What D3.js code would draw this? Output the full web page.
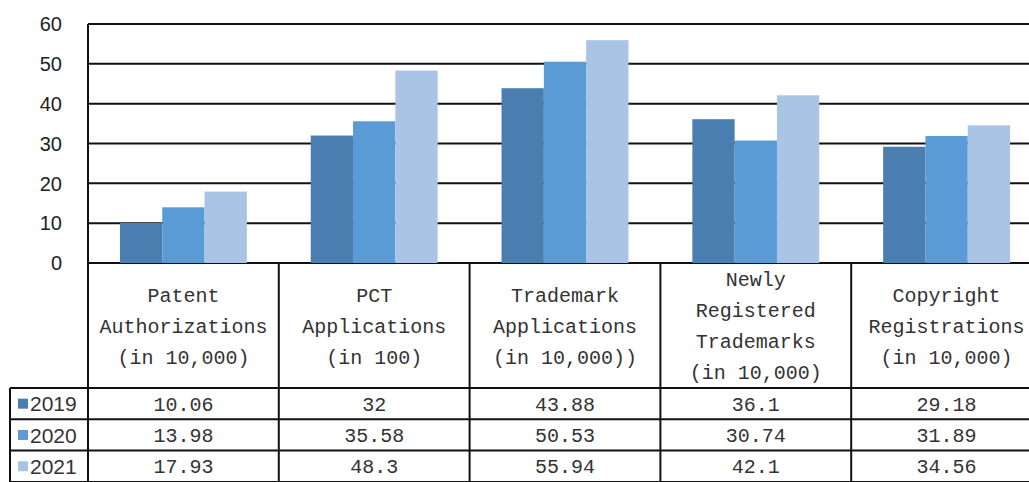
<!DOCTYPE html>
<html>
<head>
<meta charset="utf-8">
<script src="https://cdn.jsdelivr.net/npm/d3@7"></script>
<style>
  body { margin: 0; background: #fff; }
  svg { display: block; }
</style>
</head>
<body>
<div id="chart"></div>
<script>
// chart data
var categories = ["Patent Authorizations", "PCT Applications", "Trademark Applications", "Newly Registered Trademarks", "Copyright Registrations"];
var categoryLines = [
    ["Patent", "Authorizations", "(in 10,000)"],
    ["PCT", "Applications", "(in 100)"],
    ["Trademark", "Applications", "(in 10,000))"],
    ["Newly", "Registered", "Trademarks", "(in 10,000)"],
    ["Copyright", "Registrations", "(in 10,000)"]
];
var years = ["2019", "2020", "2021"];
var values2019 = [10.06, 32, 43.88, 36.1, 29.18];
var values2020 = [13.98, 35.58, 50.53, 30.74, 31.89];
var values2021 = [17.93, 48.3, 55.94, 42.1, 34.56];
var valueLabels2019 = ["10.06", "32", "43.88", "36.1", "29.18"];
var valueLabels2020 = ["13.98", "35.58", "50.53", "30.74", "31.89"];
var valueLabels2021 = ["17.93", "48.3", "55.94", "42.1", "34.56"];
var yTicks = [0, 10, 20, 30, 40, 50, 60];
var colors = ["#4a7db0", "#5b9bd5", "#a9c4e4"];

var series = [values2019, values2020, values2021];
var labels = [valueLabels2019, valueLabels2020, valueLabels2021];

var width = 1029, height = 482;
var plot = { left: 88, top: 24, bottom: 263 };
var catWidth = 190.8;
var headerBottom = 388;
var rowH = 31.3;
var legendLeft = 10;

var svg = d3.select("#chart").append("svg")
    .attr("width", width)
    .attr("height", height);

// scales
var x0 = d3.scaleBand()
    .domain(categories)
    .range([plot.left, plot.left + catWidth * categories.length])
    .paddingInner(0).paddingOuter(0);
var x1 = d3.scaleBand()
    .domain(years)
    .range([0, x0.bandwidth()])
    .paddingInner(0)
    .paddingOuter(0.755);
var y = d3.scaleLinear()
    .domain([0, 60])
    .range([plot.bottom, plot.top]);

// gridlines
svg.append("g").selectAll("line")
    .data(yTicks).enter()
    .append("line")
        .attr("x1", plot.left)
        .attr("x2", width)
        .attr("y1", function(d) { return y(d); })
        .attr("y2", function(d) { return y(d); })
        .attr("stroke", "#111")
        .attr("stroke-width", 2);

// y tick labels
svg.append("g").selectAll("text")
    .data(yTicks).enter()
    .append("text")
        .attr("x", 62)
        .attr("y", function(d) { return y(d); })
        .attr("dy", "0.36em")
        .attr("text-anchor", "end")
        .attr("font-family", "Liberation Sans, Arial, sans-serif")
        .attr("font-size", "20px")
        .attr("fill", "#222")
        .text(function(d) { return d; });

// bars
var groups = svg.append("g").selectAll("g")
    .data(categories).enter()
    .append("g")
        .attr("transform", function(d) { return "translate(" + x0(d) + ",0)"; });
groups.selectAll("rect")
    .data(function(d, i) { return years.map(function(yr, j) { return { year: yr, value: series[j][i], j: j }; }); })
    .enter()
    .append("rect")
        .attr("x", function(d) { return x1(d.year); })
        .attr("y", function(d) { return y(d.value); })
        .attr("width", x1.bandwidth())
        .attr("height", function(d) { return plot.bottom - y(d.value); })
        .attr("fill", function(d) { return colors[d.j]; });

// data table
var table = svg.append("g")
    .attr("stroke", "#111")
    .attr("stroke-width", 2);

// vertical lines of table
var vx = categories.map(function(c) { return x0(c); });
vx.push(x0(categories[categories.length - 1]) + x0.bandwidth());
table.selectAll("line.v")
    .data(vx).enter()
    .append("line")
        .attr("class", "v")
        .attr("x1", function(d) { return d; })
        .attr("x2", function(d) { return d; })
        .attr("y1", function(d, i) { return i === 0 ? plot.top : plot.bottom; })
        .attr("y2", height);

// horizontal row lines
var rowY = [headerBottom, headerBottom + rowH, headerBottom + 2 * rowH, headerBottom + 3 * rowH];
table.selectAll("line.h")
    .data(rowY).enter()
    .append("line")
        .attr("class", "h")
        .attr("x1", legendLeft)
        .attr("x2", width)
        .attr("y1", function(d) { return d; })
        .attr("y2", function(d) { return d; });
table.append("line")
    .attr("x1", legendLeft).attr("x2", legendLeft)
    .attr("y1", headerBottom).attr("y2", height);

// header text
var monoFont = "Liberation Mono, DejaVu Sans Mono, monospace";
var lineH = 31;
var headerMid = (plot.bottom + headerBottom) / 2;
categoryLines.forEach(function(lines, i) {
    var cx = x0(categories[i]) + x0.bandwidth() / 2;
    var startY = headerMid - (lines.length - 1) * lineH / 2;
    svg.append("g").selectAll("text")
        .data(lines).enter()
        .append("text")
            .attr("x", cx)
            .attr("y", function(d, k) { return startY + k * lineH; })
            .attr("dy", "0.35em")
            .attr("text-anchor", "middle")
            .attr("font-family", monoFont)
            .attr("font-size", "20px")
            .attr("fill", "#333")
            .text(function(d) { return d; });
});

// value rows
years.forEach(function(yr, j) {
    var cy = headerBottom + rowH * j + rowH / 2;
    svg.append("g").selectAll("text")
        .data(labels[j]).enter()
        .append("text")
            .attr("x", function(d, i) { return x0(categories[i]) + x0.bandwidth() / 2; })
            .attr("y", cy)
            .attr("dy", "0.36em")
            .attr("text-anchor", "middle")
            .attr("font-family", monoFont)
            .attr("font-size", "20px")
            .attr("fill", "#333")
            .text(function(d) { return d; });

    // legend key
    svg.append("rect")
        .attr("x", 18)
        .attr("y", cy - 5)
        .attr("width", 10)
        .attr("height", 10)
        .attr("fill", colors[j]);
    svg.append("text")
        .attr("x", 30)
        .attr("y", cy)
        .attr("dy", "0.36em")
        .attr("font-family", "Liberation Sans, Arial, sans-serif")
        .attr("font-size", "21px")
        .attr("fill", "#333")
        .text(yr);
});
</script>
</body>
</html>
